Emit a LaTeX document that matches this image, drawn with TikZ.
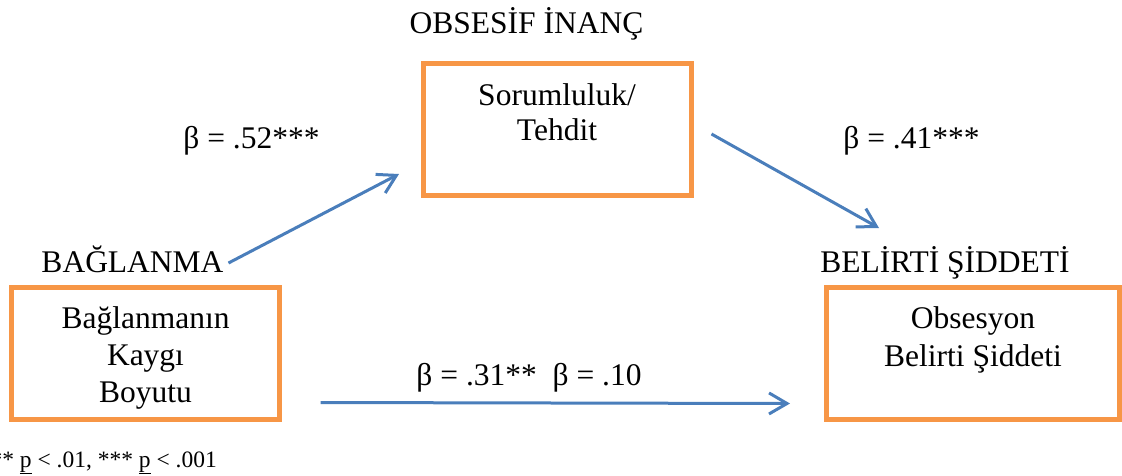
\documentclass[tikz,border=0pt]{standalone}
\usepackage{fontspec}
\setmainfont{Liberation Serif}
\usetikzlibrary{arrows.meta}
\definecolor{boxorange}{HTML}{F79646}
\definecolor{arrowblue}{HTML}{4A7EBB}
\begin{document}
\begin{tikzpicture}[x=1pt,y=-1pt,
  box/.style={draw=boxorange,line width=5pt,rectangle,inner sep=0pt,fill=none},
  txt/.style={anchor=base,inner sep=0pt,font=\fontsize{31.5}{37}\selectfont},
  conn/.style={draw=arrowblue,line width=3pt,-{Straight Barb[length=18pt,width=21pt]}}]
\useasboundingbox (0,0) rectangle (1122,475);
% boxes
\node[box,minimum width=268pt,minimum height=132pt] (top) at (557.5,129) {};
\node[box,minimum width=268pt,minimum height=132pt] (left) at (145.5,353) {};
\node[box,minimum width=293.5pt,minimum height=132pt] (right) at (972.75,353) {};
% box texts
\node[txt] (t1) at (557,105) {Sorumluluk/};
\node[txt] (t2) at (557,140) {Tehdit};
\node[txt] (l1) at (145.5,328) {Bağlanmanın};
\node[txt] (l2) at (145.5,365) {Kaygı};
\node[txt] (l3) at (145.5,402) {Boyutu};
\node[txt] (r1) at (973,328) {Obsesyon};
\node[txt] (r2) at (973,366.5) {Belirti Şiddeti};
% headings
\node[txt] (title) at (526.5,33) {OBSESİF İNANÇ};
\node[txt] (bag) at (132.5,272) {BAĞLANMA};
\node[txt] (bel) at (945,272) {BELİRTİ ŞİDDETİ};
% coefficients
\node[txt] (b52) at (251.5,148) {β = .52***};
\node[txt] (b41) at (911.5,148) {β = .41***};
\node[txt] (b31) at (529,385) {β = .31**\ \ β = .10};
% footnote
\node[anchor=base east,inner sep=0pt,font=\fontsize{23.5}{27}\selectfont] (note) at (217,467) {** \underline{p} < .01, *** \underline{p} < .001};
% connectors
\coordinate (a1s) at (228.5,263);
\coordinate (a1e) at (399,174);
\coordinate (a2s) at (711.5,134);
\coordinate (a2e) at (879,228);
\coordinate (a3s) at (320.5,402.5);
\coordinate (a3e) at (790,403.5);
\draw[conn] (a1s) -- (a1e);
\draw[conn] (a2s) -- (a2e);
\draw[conn] (a3s) -- (a3e);
\end{tikzpicture}
\end{document}
